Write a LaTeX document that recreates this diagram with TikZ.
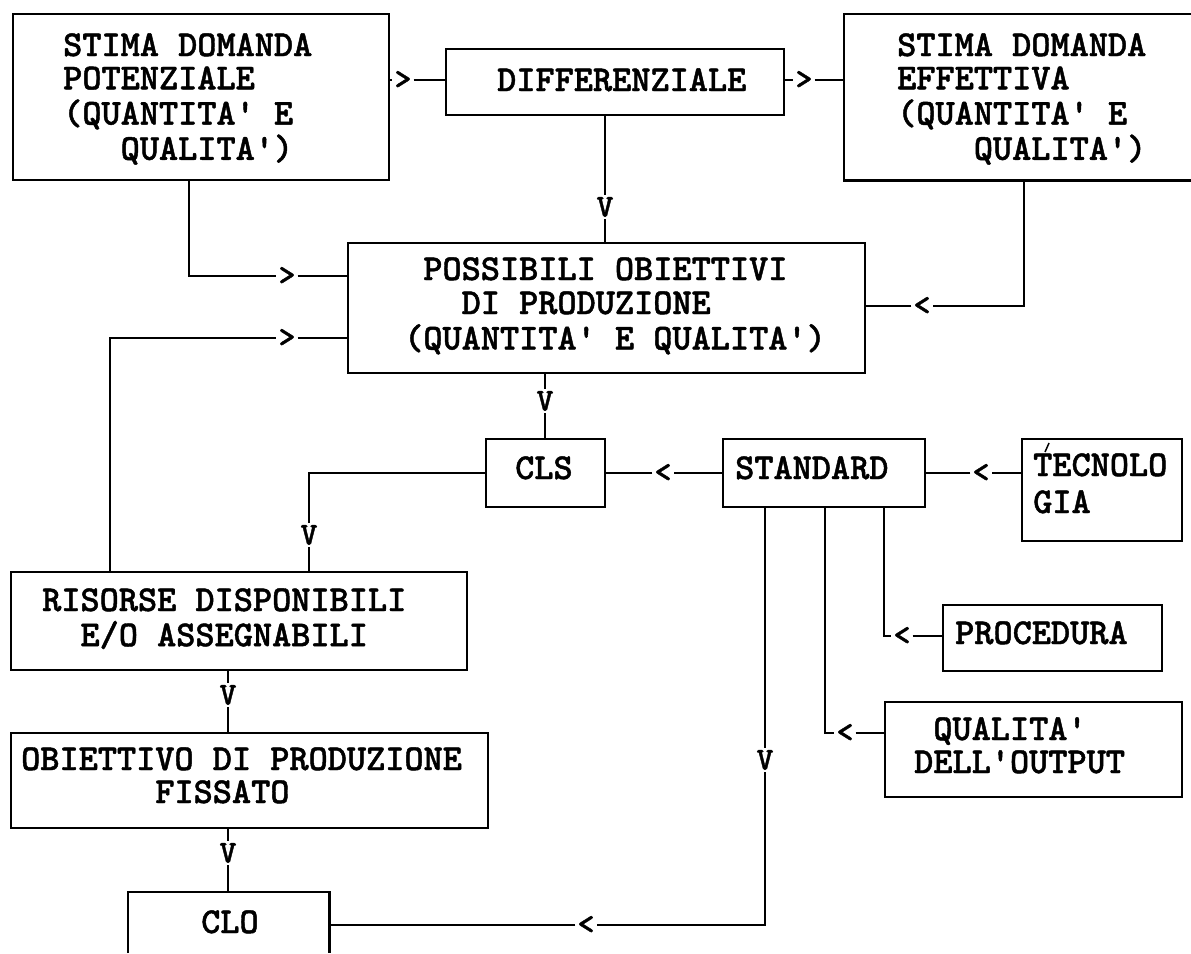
\documentclass[tikz,border=0pt]{standalone}
\usepackage{fontspec}
\newfontfamily\twfont{lmmonolt10-bold}[Extension=.otf, Ligatures=TeXOff, FakeBold=1.2]
\newcommand\mlines[2]{\fontsize{36.5}{#1}\selectfont\frenchspacing\begin{tabular}[t]{@{}l@{}}#2\end{tabular}}
\tikzset{
  box/.style={draw, line width=2.6pt, inner sep=0pt, rectangle},
  openbox/.style={inner sep=0pt, rectangle},
  txt/.style={font=\twfont, inner sep=0pt, anchor=base west},
  glyph/.style={font=\twfont\fontsize{32}{33}\selectfont, inner sep=2pt},
  conn/.style={line width=2.6pt}
}
\begin{document}
\begin{tikzpicture}[x=1pt,y=-1pt]
\useasboundingbox (0,0) rectangle (1191,953);
\fill[white] (0,0) rectangle (1191,953);

% boxes
\node[box, minimum width=376pt, minimum height=166pt] (pot) at (201,97) {};
\node[box, minimum width=338pt, minimum height=66pt] (diff) at (615,82) {};
\node[openbox, minimum width=347pt, minimum height=166pt] (eff) at (1017.5,97) {};
\draw[conn] (eff.north east) -- (eff.north west) -- (eff.south west) -- (eff.south east);
\node[box, minimum width=517pt, minimum height=130pt] (poss) at (606.5,308) {};
\node[box, minimum width=119pt, minimum height=68pt] (cls) at (545.5,473) {};
\node[box, minimum width=202pt, minimum height=68pt] (standard) at (824,473) {};
\node[box, minimum width=160pt, minimum height=102pt] (tec) at (1102,490) {};
\node[box, minimum width=219pt, minimum height=66pt] (proc) at (1052.5,638) {};
\node[box, minimum width=297pt, minimum height=95pt] (qual) at (1033.5,749.5) {};
\node[box, minimum width=456pt, minimum height=98pt] (ris) at (239,621) {};
\node[box, minimum width=477pt, minimum height=95pt] (obi) at (249.5,780.5) {};
\node[openbox, minimum width=201pt, minimum height=61pt] (clo) at (228.5,922.5) {};
\draw[conn] (clo.south west) -- (clo.north west) -- (clo.north east) -- (clo.south east);

% texts
\node[txt] (potT) at (63,56) {\mlines{33.3}{STIMA DOMANDA\\POTENZIALE\\(QUANTITA' E\\\phantom{XXX}QUALITA')}};
\node[txt] (diffT) at (497,91) {\mlines{33}{DIFFERENZIALE}};
\node[txt] (effT) at (897,56) {\mlines{33.3}{STIMA DOMANDA\\EFFETTIVA\\(QUANTITA' E\\\phantom{XXXX}QUALITA')}};
\node[txt] (possT) at (404,280) {\mlines{34}{\phantom{X}POSSIBILI OBIETTIVI\\\phantom{XXX}DI PRODUZIONE\\(QUANTITA' E QUALITA')}};
\node[txt] (clsT) at (515,479) {\mlines{33}{CLS}};
\node[txt] (standardT) at (735,479) {\mlines{33}{STANDARD}};
\node[txt] (tecT) at (1033,476) {\mlines{37}{TECNOLO\\GIA}};
\draw[line width=1.5pt] (1045,452) -- (1049,443);
\node[txt] (procT) at (955,644) {\mlines{33}{PROCEDURA}};
\node[txt] (qualT) at (914,740) {\mlines{33}{\phantom{X}QUALITA'\\DELL'OUTPUT}};
\node[txt] (risT) at (42,611) {\mlines{33}{RISORSE DISPONIBILI\\\phantom{XX}E/O ASSEGNABILI}};
\node[txt] (obiT) at (21,770) {\mlines{33}{OBIETTIVO DI PRODUZIONE\\\phantom{XXXXXXX}FISSATO}};
\node[txt] (cloT) at (201,933) {\mlines{33}{CLO}};

% arrow glyphs
\node[glyph] (g1) at (403,80) {>};
\node[glyph] (g2) at (804,80) {>};
\node[glyph] (g3) at (605,207) {V};
\node[glyph] (g4) at (287,276) {>};
\node[glyph] (g5) at (922,306) {<};
\node[glyph] (g6) at (287,338) {>};
\node[glyph] (g7) at (545,401) {V};
\node[glyph] (g8) at (309,535) {V};
\node[glyph] (g9) at (663,473) {<};
\node[glyph] (g10) at (981,473) {<};
\node[glyph] (g11) at (902,636) {<};
\node[glyph] (g12) at (845,733) {<};
\node[glyph] (g13) at (765,760) {V};
\node[glyph] (g14) at (586,925) {<};
\node[glyph] (g15) at (228,695) {V};
\node[glyph] (g16) at (228,853) {V};

% connectors
\draw[conn] (g1 -| pot.east) -- (g1.west);
\draw[conn] (g1.east) -- (g1 -| diff.west);
\draw[conn] (g2 -| diff.east) -- (g2.west);
\draw[conn] (g2.east) -- (g2 -| eff.west);
\draw[conn] (g3 |- diff.south) -- (g3.north);
\draw[conn] (g3.south) -- (g3 |- poss.north);
\draw[conn] ([xshift=-12pt]pot.south) |- (g4.west);
\draw[conn] (g4.east) -- (g4 -| poss.west);
\draw[conn] ([xshift=6.5pt]eff.south) |- (g5.east);
\draw[conn] (g5.west) -- (g5 -| poss.east);
\draw[conn] ([xshift=-129pt]ris.north) |- (g6.west);
\draw[conn] (g6.east) -- (g6 -| poss.west);
\draw[conn] (g7 |- poss.south) -- (g7.north);
\draw[conn] (g7.south) -- (g7 |- cls.north);
\draw[conn] (cls.west) -| (g8.north);
\draw[conn] (g8.south) -- (g8 |- ris.north);
\draw[conn] (standard.west) -- (g9.east);
\draw[conn] (g9.west) -- (cls.east);
\draw[conn] (tec.west |- g10) -- (g10.east);
\draw[conn] (g10.west) -- (g10 -| standard.east);
\draw[conn] ([xshift=60pt]standard.south) |- (g11.west);
\draw[conn] (g11.east) -- (g11 -| proc.west);
\draw[conn] ([xshift=1pt]standard.south) |- (g12.west);
\draw[conn] (g12.east) -- (g12 -| qual.west);
\draw[conn] ([xshift=-59pt]standard.south) -- (g13.north);
\draw[conn] (g13.south) |- (g14.east);
\draw[conn] (g14.west) -- (g14 -| clo.east);
\draw[conn] (g15 |- ris.south) -- (g15.north);
\draw[conn] (g15.south) -- (g15 |- obi.north);
\draw[conn] (g16 |- obi.south) -- (g16.north);
\draw[conn] (g16.south) -- (g16 |- clo.north);
\end{tikzpicture}
\end{document}
